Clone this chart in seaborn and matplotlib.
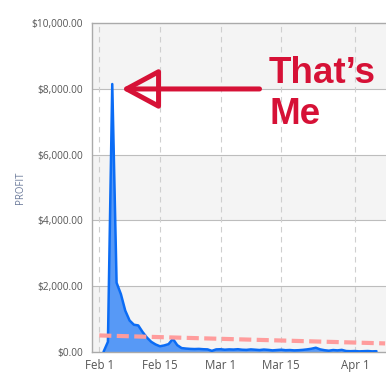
import numpy as np
import pandas as pd
import matplotlib.pyplot as plt
import matplotlib.dates as mdates
import seaborn as sns

# Günlük kâr verisi (daily profit)
first_day = "2015-02-02"
profit = [0, 300, 8150, 2100, 1750, 1250, 950, 820, 800, 600,
          430, 300, 220, 165, 190, 230, 390, 200, 110, 95,
          85, 80, 85, 75, 70, 25, 70, 75, 60, 70,
          65, 75, 60, 55, 70, 60, 50, 65, 55, 40,
          50, 60, 45, 50, 40, 45, 55, 70, 90, 120,
          70, 45, 30, 50, 40, 55, 20, 15, 20, 10,
          15, 20, 10, 15]
days = pd.date_range(first_day, periods=len(profit), freq="D")

# trend cizgisi (trend line end points)
trend_days = pd.to_datetime(["2015-02-01", "2015-04-08"])
trend_profit = [495, 252]

y_ticks = [0, 2000, 4000, 6000, 8000, 10000]
x_ticks = pd.to_datetime(["2015-02-01", "2015-02-15", "2015-03-01", "2015-03-15", "2015-04-01"])
x_tick_labels = ["Feb 1", "Feb 15", "Mar 1", "Mar 15", "Apr 1"]
note_lines = ["That\u2019s", "Me"]

red = "#d61136"
line_blue = "#0b6cf5"
fill_blue = "#5799f6"

sns.set_style("white")
plt.rcParams["font.family"] = ["Open Sans", "DejaVu Sans"]

fig = plt.figure(figsize=(3.86, 3.86), dpi=100)
ax = fig.add_axes([0.2383, 0.0889, 0.7617, 0.8508])

feb1 = pd.Timestamp("2015-02-01")
ax.set_xlim(feb1 - pd.Timedelta(days=1.68), feb1 + pd.Timedelta(days=66.2))
ax.set_ylim(0, 10000)

# arka plan bantlari (alternating bands)
for lo in [0, 4000, 8000]:
    ax.axhspan(lo, lo + 2000, color="#f4f4f4", zorder=0, lw=0)

for y in y_ticks[1:-1]:
    ax.axhline(y, color="#bdbdbd", lw=0.8, zorder=1)
for x in x_ticks:
    ax.axvline(x, color="#cfcfcf", lw=0.8, ls=(0, (5, 4)), zorder=1)

# veri (profit area)
ax.fill_between(days, profit, 0, color=fill_blue, lw=0, zorder=2)
sns.lineplot(x=days, y=profit, ax=ax, color=line_blue, lw=1.8, zorder=3)
sns.lineplot(x=trend_days, y=trend_profit, ax=ax, color="#ff9c9c", lw=3,
             ls=(0, (2.9, 1.3)), zorder=4)

ax.set_yticks(y_ticks)
ax.set_yticklabels(["${:,.2f}".format(v) for v in y_ticks], fontsize=7.3, color="#555555")
ax.set_xticks(x_ticks)
ax.set_xticklabels(x_tick_labels, fontsize=8.3, color="#555555")
ax.tick_params(axis="y", length=0, pad=6.5)
ax.tick_params(axis="x", length=0, pad=5.5)

ax.set_xlabel("")
ax.set_ylabel("PROFIT", fontsize=6.9, color="#6b7a9a")
ax.yaxis.set_label_coords(-0.225, 0.5)

for side in ["left", "top", "bottom"]:
    ax.spines[side].set_color("#aaaaaa")
    ax.spines[side].set_linewidth(1)
ax.spines["right"].set_visible(False)

# ok ve yazi (arrow and note)
tip = mdates.date2num(feb1 + pd.Timedelta(days=5.1))
tail = mdates.date2num(feb1 + pd.Timedelta(days=37.0))
ax.annotate("", xy=(tip, 8000), xytext=(tail, 8000),
            arrowprops=dict(arrowstyle="-|>,head_length=1.15,head_width=0.62",
                            mutation_scale=20, lw=3.6, ec=red, fc="none",
                            shrinkA=0, shrinkB=0, capstyle="round", joinstyle="round"),
            zorder=5)
text_x = mdates.date2num(feb1 + pd.Timedelta(days=39.2))
ax.text(text_x, 8191, note_lines[0], fontsize=26.5, fontweight="bold", color=red,
        family="Liberation Sans", va="baseline", zorder=5)
ax.text(text_x, 6940, note_lines[1], fontsize=26.5, fontweight="bold", color=red,
        family="Liberation Sans", va="baseline", zorder=5)

plt.savefig("out.png", dpi=100)
